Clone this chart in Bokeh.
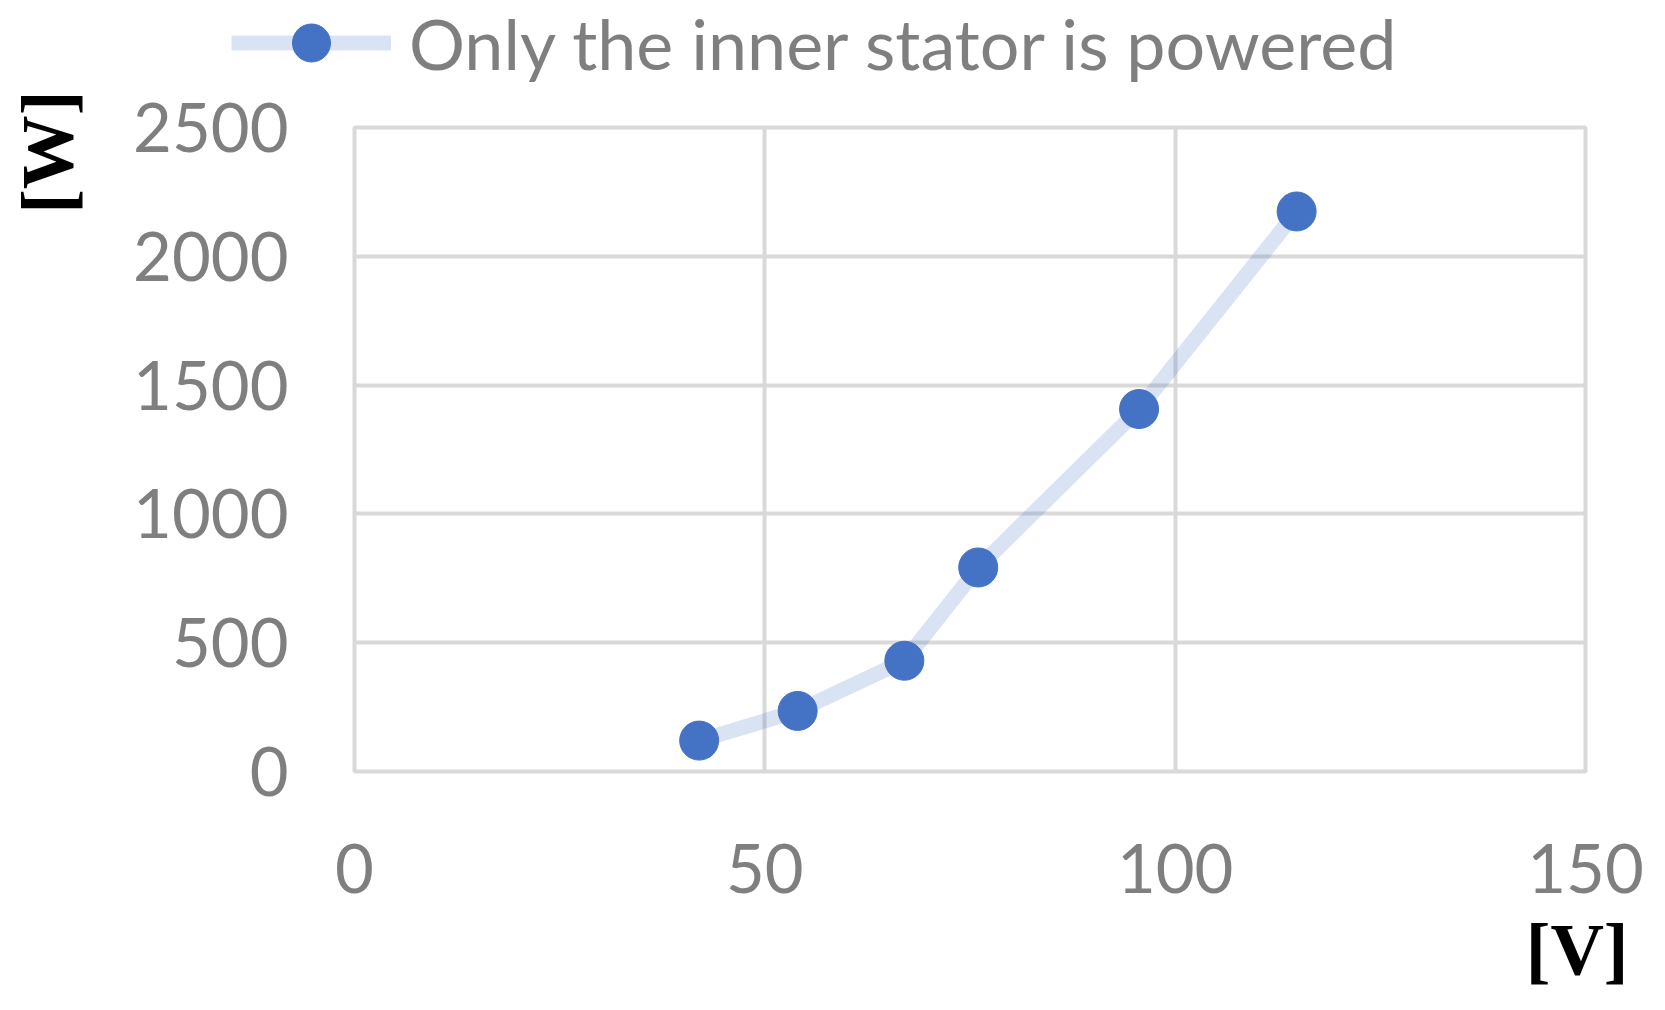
from bokeh.plotting import figure
from bokeh.layouts import column
from bokeh.models import Range1d, FixedTicker, Legend, LegendItem, Title
from bokeh.embed import file_html
from bokeh.resources import INLINE

# ---- data ----
voltage = [42, 54, 67, 76, 95.6, 114.8]
power = [120, 235, 430, 792, 1407, 2174]
x_ticks = [0, 50, 100, 150]
y_ticks = [0, 500, 1000, 1500, 2000, 2500]
series_name = "Only the inner stator is powered"
x_title = "[V]"
y_title = "[W]"

BLUE = "#4472c4"
GRID = "#d9d9d9"
TXT = "#7f7f7f"
FONT = "Lato"
W = 1650
TOP_H = 86

line_style = dict(line_color=BLUE, line_alpha=0.2, line_width=15)
marker_style = dict(fill_color=BLUE, line_color=BLUE)

# ---- legend strip (top) ----
top = figure(width=W, height=TOP_H, output_backend="svg", toolbar_location=None,
             x_axis_location=None, y_axis_location=None,
             x_range=Range1d(0, 1), y_range=Range1d(0, 1),
             min_border=0, min_border_left=0, min_border_right=0,
             min_border_top=0, min_border_bottom=0)
top.frame_align = False
top.outline_line_color = None
top.grid.visible = False
top.background_fill_color = "white"
top.border_fill_color = "white"
l_line = top.line(voltage, power, **line_style)
l_pts = top.scatter(voltage, power, size=39, **marker_style)
legend = Legend(items=[LegendItem(label=series_name, renderers=[l_line, l_pts])],
                location=(231, -4), orientation="horizontal",
                glyph_width=160, glyph_height=95, label_height=60,
                label_standoff=18, padding=0, margin=0, spacing=0,
                border_line_alpha=0, background_fill_alpha=0,
                label_text_font=FONT, label_text_font_size="70px",
                label_text_color=TXT, label_text_baseline="middle")
top.add_layout(legend, "center")

# ---- main chart ----
p = figure(width=W, height=994 - TOP_H, output_backend="svg", toolbar_location=None,
           x_range=Range1d(x_ticks[0], x_ticks[-1]), y_range=Range1d(y_ticks[0], y_ticks[-1]),
           min_border_left=354, min_border_right=65, min_border_top=127 - TOP_H,
           min_border_bottom=223)
p.frame_align = False

p.outline_line_color = GRID
p.outline_line_width = 4
p.background_fill_color = "white"
p.border_fill_color = "white"

for g in (p.xgrid, p.ygrid):
    g.grid_line_color = GRID
    g.grid_line_width = 4
p.xgrid.ticker = FixedTicker(ticks=x_ticks)
p.ygrid.ticker = FixedTicker(ticks=y_ticks)

for ax in (p.xaxis, p.yaxis):
    ax.axis_line_color = None
    ax.major_tick_line_color = None
    ax.minor_tick_line_color = None
    ax.major_tick_out = 0
    ax.major_tick_in = 0
    ax.major_label_text_font = FONT
    ax.major_label_text_font_size = "67px"
    ax.major_label_text_color = TXT
p.xaxis.ticker = FixedTicker(ticks=x_ticks)
p.yaxis.ticker = FixedTicker(ticks=y_ticks)
p.xaxis.major_label_standoff = 72
p.yaxis.major_label_standoff = 66

p.line(voltage, power, **line_style)
p.scatter(voltage, power, size=39, **marker_style)

# spacers + axis titles
p.add_layout(Title(text=" ", text_font_size="1px", standoff=38), "left")
p.add_layout(Title(text=y_title, align="right", offset=-37, vertical_align="middle",
                   text_font="Liberation Serif", text_font_style="bold",
                   text_font_size="74px", text_color="black", standoff=0), "left")
p.add_layout(Title(text=" ", text_font_size="1px", standoff=9), "below")
p.add_layout(Title(text=x_title, align="right", offset=-43, vertical_align="middle",
                   text_font="Liberation Serif", text_font_style="bold",
                   text_font_size="74px", text_color="black", standoff=0), "below")

layout = column(top, p, spacing=0)
open("out.html", "w").write(file_html(layout, INLINE))
